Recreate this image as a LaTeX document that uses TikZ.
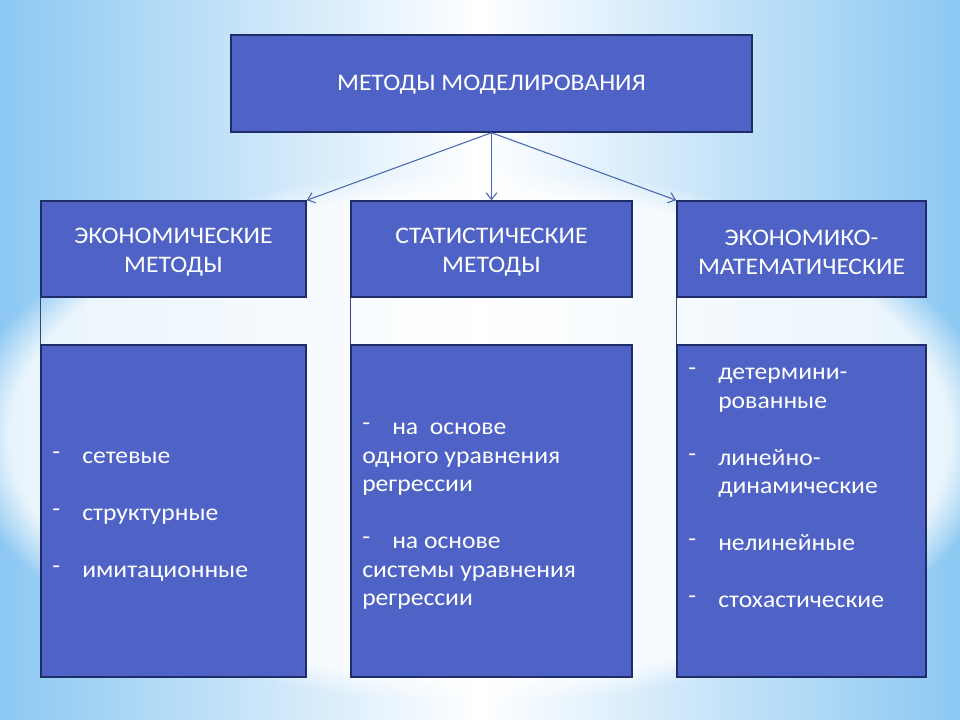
\documentclass[tikz,border=0pt]{standalone}
\usepackage{fontspec}
\setmainfont{Carlito}[FakeStretch=1.08]
\usetikzlibrary{arrows.meta,fadings}
\definecolor{boxfill}{RGB}{79,99,198}
\definecolor{boxline}{RGB}{30,44,105}
\definecolor{arrowc}{RGB}{74,104,176}
\definecolor{bgside}{RGB}{140,200,242}
\pgfdeclareradialshading{glowshade}{\pgfpoint{0bp}{0bp}}{color(0bp)=(white); color(22.5bp)=(white); color(25bp)=(black); color(50bp)=(black)}
\pgfdeclarefading{glowfade}{\pgfuseshading{glowshade}}
\newcommand\dsh{\makebox[22.5pt][l]{\raisebox{0.35ex}{-}}}
\tikzset{
  box/.style={draw=boxline, line width=1.1pt, fill=boxfill, inner sep=0pt},
  boxtext/.style={text=white, font=\fontsize{17.8}{21.4}\selectfont, align=center, inner sep=0pt},
  listtext/.style={text=white, font=\fontsize{17.8}{21.4}\selectfont, align=left, inner sep=0pt, anchor=west},
  arr/.style={draw=arrowc, line width=0.8pt, -{Straight Barb[length=5pt,width=8pt]}},
  link/.style={draw=boxline!70!gray, line width=0.6pt}
}
\begin{document}
\begin{tikzpicture}[x=0.75pt,y=-0.75pt]
\useasboundingbox (0,0) rectangle (960,720);
% background
\shade[left color=bgside, right color=bgside, middle color=white] (0,0) rectangle (960,720);
\begin{scope}
\clip (0,0) rectangle (960,720);
\fill[white, opacity=0.8, path fading=glowfade, fit fading=true] (480,436) ellipse (520 and 268);
\end{scope}
% boxes
\node[box, minimum width=521*0.75pt, minimum height=97*0.75pt] (top) at (491.5,83.5) {};
\node[boxtext] at ([yshift=-1pt]top.center) {МЕТОДЫ МОДЕЛИРОВАНИЯ};

\node[box, minimum width=265*0.75pt, minimum height=96*0.75pt] (h1) at (173.5,249) {};
\node[box, minimum width=281*0.75pt, minimum height=96*0.75pt] (h2) at (491.5,249) {};
\node[box, minimum width=249*0.75pt, minimum height=96*0.75pt] (h3) at (801.5,249) {};
\node[boxtext] at ([yshift=-2.5pt]h1.center) {ЭКОНОМИЧЕСКИЕ\\МЕТОДЫ};
\node[boxtext] at ([yshift=-2.5pt]h2.center) {СТАТИСТИЧЕСКИЕ\\МЕТОДЫ};
\node[boxtext] at ([yshift=-2.5pt]h3.center) {ЭКОНОМИКО-\\МАТЕМАТИЧЕСКИЕ};

\node[box, minimum width=265*0.75pt, minimum height=332*0.75pt] (l1) at (173.5,511) {};
\node[box, minimum width=281*0.75pt, minimum height=332*0.75pt] (l2) at (491.5,511) {};
\node[box, minimum width=249*0.75pt, minimum height=332*0.75pt] (l3) at (801.5,511) {};

\node[listtext] (t1) at (52,516.5) {\dsh сетевые\\[21.4pt]\dsh структурные\\[21.4pt]\dsh имитационные};
\node[listtext] (t2) at (362,516.5) {\dsh на\ \ основе\\одного уравнения\\регрессии\\[21.4pt]\dsh на основе\\системы уравнения\\регрессии};
\node[listtext] (t3) at (688,488) {\dsh детермини-\\\hspace*{22.5pt}рованные\\[21.4pt]\dsh линейно-\\\hspace*{22.5pt}динамические\\[21.4pt]\dsh нелинейные\\[21.4pt]\dsh стохастические};

% connectors
\draw[arr] (top.south) -- (h1.north east);
\draw[arr] (top.south) -- (h2.north);
\draw[arr] (top.south) -- (h3.north west);
\draw[link] (h1.south west) -- (l1.north west);
\draw[link] (h2.south west) -- (l2.north west);
\draw[link] (h3.south west) -- (l3.north west);
\end{tikzpicture}
\end{document}
